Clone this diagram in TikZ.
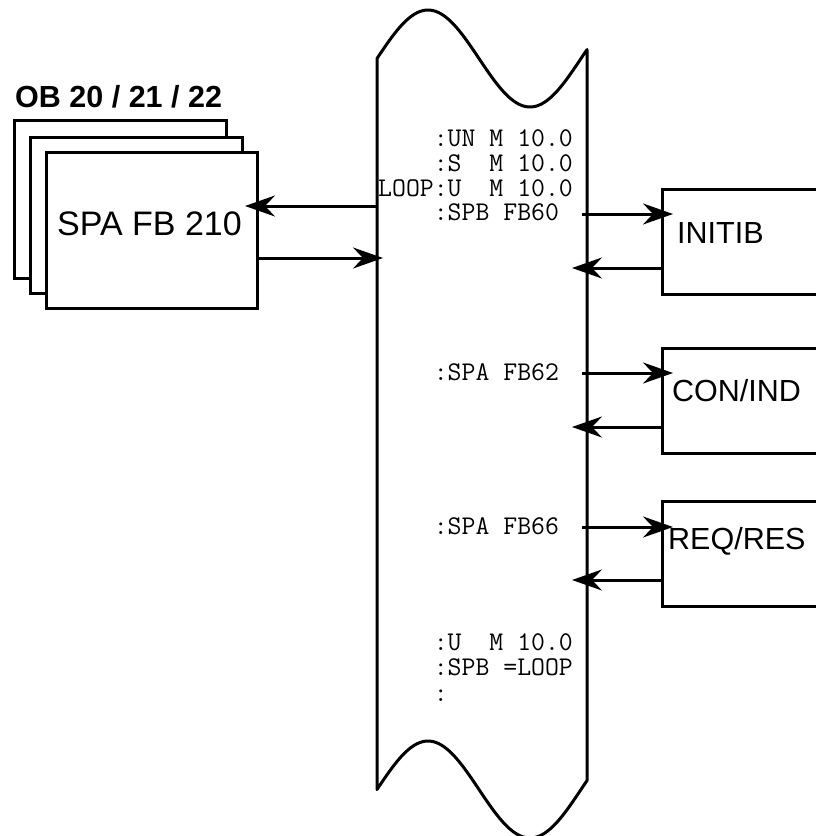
\documentclass[tikz,border=0pt]{standalone}
\usepackage{fontspec}
\setmainfont{Liberation Sans}
\usetikzlibrary{arrows.meta,positioning}
\tikzset{
  pa/.style={-{Stealth[length=30pt,width=21pt,inset=10pt]}, line width=3pt},
  fbbox/.style={draw, fill=white, line width=3pt, inner sep=0pt, outer sep=0pt, anchor=north west},
  fbtxt/.style={anchor=base west, inner sep=0pt, font=\fontsize{30.5}{36}\selectfont},
  codeln/.style={anchor=base west, inner sep=0pt, font=\ttfamily\fontsize{27}{30}\selectfont},
  strip/.style={line width=3pt, line join=round},
}
\begin{document}
\begin{tikzpicture}[x=1pt,y=-1pt]
  \useasboundingbox (0,0) rectangle (815,836);
  % program strip with torn ends
  \draw[strip] plot[domain=377:587,samples=80] (\x,{58.5-48.5*sin((\x-377)*1.7647)})
    -- plot[domain=587:377,samples=80] (\x,{789.5-48.5*sin((\x-377)*1.7647)}) -- cycle;
  \coordinate (stripL) at (377,0);
  \coordinate (stripR) at (587,0);
  % OB stack
  \node[anchor=base west, inner sep=0pt, font=\bfseries\fontsize{30.5}{36}\selectfont] (obtitle) at (15,107) {OB 20 / 21 / 22};
  \node[fbbox, minimum width=212pt, minimum height=158pt] (ob1) at (14,120) {};
  \node[fbbox, minimum width=212pt, minimum height=156pt] (ob2) at (30,137) {};
  \node[fbbox, minimum width=211pt, minimum height=156pt] (ob3) at (46,152) {};
  \node[anchor=base west, inner sep=0pt, font=\fontsize{34}{40}\selectfont] (ob3txt) at (57,235) {SPA FB 210};
  % called blocks
  \node[fbbox, minimum width=200pt, minimum height=105pt] (initib) at (662,189) {};
  \node[fbbox, minimum width=200pt, minimum height=105pt] (conind) at (662,348) {};
  \node[fbbox, minimum width=200pt, minimum height=105pt] (reqres) at (662,501) {};
  \node[fbtxt] (initibtxt) at (677,243) {INITIB};
  \node[fbtxt] (conindtxt) at (672,401) {CON/IND};
  \node[fbtxt] (reqrestxt) at (668,549) {REQ/RES};
  % code lines
  \node[codeln] (c1) at (378,146) {~~~~:UN~M~10.0};
  \node[codeln] (c2) at (378,171) {~~~~:S~~M~10.0};
  \node[codeln] (c3) at (378,196) {LOOP:U~~M~10.0};
  \node[codeln] (c4) at (378,220) {~~~~:SPB~FB60};
  \node[codeln] (c5) at (378,380) {~~~~:SPA~FB62};
  \node[codeln] (c6) at (378,534) {~~~~:SPA~FB66};
  \node[codeln] (c7) at (378,650) {~~~~:U~~M~10.0};
  \node[codeln] (c8) at (378,675) {~~~~:SPB~=LOOP};
  \node[codeln] (c9) at (378,701) {~~~~:};
  % calls and returns
  \coordinate (rob) at (377,206);
  \coordinate (cob) at (377,258);
  \draw[pa] (rob) -- ([xshift=-12pt]rob -| ob3.east);
  \draw[pa] (cob -| ob3.east) -- ([xshift=6pt]cob);
  \coordinate (s60) at (582,214);
  \coordinate (r60) at (572,268);
  \draw[pa] (s60) -- ([xshift=11pt]s60 -| initib.west);
  \draw[pa] (r60 -| initib.west) -- (r60);
  \coordinate (s62) at (582,373);
  \coordinate (r62) at (572,427);
  \draw[pa] (s62) -- ([xshift=11pt]s62 -| conind.west);
  \draw[pa] (r62 -| conind.west) -- (r62);
  \coordinate (s66) at (582,527);
  \coordinate (r66) at (572,580);
  \draw[pa] (s66) -- ([xshift=11pt]s66 -| reqres.west);
  \draw[pa] (r66 -| reqres.west) -- (r66);
\end{tikzpicture}
\end{document}
